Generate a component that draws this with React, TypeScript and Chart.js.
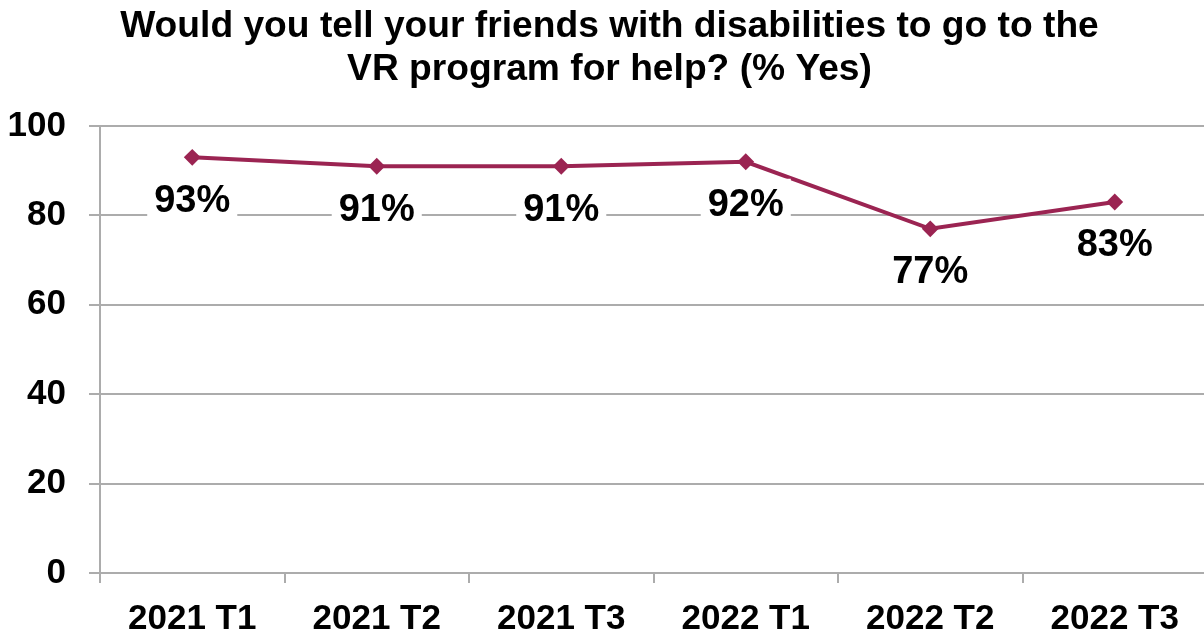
import React, { useEffect, useRef } from "react";
import { Chart, registerables } from "chart.js";

Chart.register(...registerables);

const categories = ["2021 T1", "2021 T2", "2021 T3", "2022 T1", "2022 T2", "2022 T3"];
const yesPercent = [93, 91, 91, 92, 77, 83];
const yTicks = [0, 20, 40, 60, 80, 100];
const titleLines = [
  "Would you tell your friends with disabilities to go to the",
  "VR program for help? (% Yes)",
];

const FONT = "'Liberation Sans', Arial, Helvetica, sans-serif";
const LINE_COLOR = "#9b2452";
const GRID_COLOR = "#acacac";

const labelPlugin = {
  id: "valueLabels",
  afterDatasetsDraw(chart: any) {
    const ctx = chart.ctx;
    const meta = chart.getDatasetMeta(0);
    ctx.save();
    ctx.font = `bold 38px ${FONT}`;
    ctx.textAlign = "center";
    ctx.textBaseline = "middle";
    meta.data.forEach((pt: any, i: number) => {
      const text = `${yesPercent[i]}%`;
      const x = pt.x;
      const y = pt.y + 43;
      const w = ctx.measureText(text).width + 14;
      const h = 52;
      ctx.fillStyle = "#ffffff";
      ctx.fillRect(x - w / 2, y - h / 2, w, h);
      ctx.fillStyle = "#000000";
      ctx.fillText(text, x, y + 1);
    });
    ctx.restore();
  },
};

export default function App() {
  const ref = useRef<HTMLCanvasElement | null>(null);

  useEffect(() => {
    if (!ref.current) return;
    const chart = new Chart(ref.current, {
      type: "line",
      data: {
        labels: categories,
        datasets: [
          {
            data: yesPercent,
            borderColor: LINE_COLOR,
            backgroundColor: LINE_COLOR,
            borderWidth: 4,
            pointStyle: "rectRot",
            pointRadius: 7,
            pointBorderWidth: 2,
            pointBackgroundColor: LINE_COLOR,
            pointBorderColor: LINE_COLOR,
            tension: 0,
          },
        ],
      },
      options: {
        responsive: false,
        animation: false,
        layout: { padding: { left: 8, right: 5, top: 0, bottom: 0 } },
        plugins: {
          legend: { display: false },
          tooltip: { enabled: false },
          title: {
            display: true,
            text: titleLines,
            color: "#000000",
            font: { family: FONT, size: 37.2, weight: "bold", lineHeight: 1.156 },
            padding: { top: 5, bottom: 35 },
          },
        },
        scales: {
          x: {
            offset: true,
            grid: {
              offset: true,
              drawOnChartArea: false,
              drawTicks: true,
              tickLength: 10,
              color: GRID_COLOR,
              lineWidth: 2,
            },
            border: { display: true, color: GRID_COLOR, width: 2 },
            ticks: {
              color: "#000000",
              font: { family: FONT, size: 35, weight: "bold", lineHeight: 1.2 },
              padding: 15,
              maxRotation: 0,
              autoSkip: false,
            },
            afterFit(scale: any) {
              scale.height = 64;
            },
          },
          y: {
            min: 0,
            max: 100,
            afterBuildTicks(scale: any) {
              scale.ticks = yTicks.map((v) => ({ value: v }));
            },
            grid: {
              drawTicks: true,
              tickLength: 11,
              color: GRID_COLOR,
              lineWidth: 2,
            },
            border: { display: true, color: GRID_COLOR, width: 2 },
            ticks: {
              color: "#000000",
              font: { family: FONT, size: 35, weight: "bold", lineHeight: 1.2 },
              padding: 23,
            },
            afterFit(scale: any) {
              scale.width = 92;
            },
          },
        },
      },
      plugins: [labelPlugin],
    });
    return () => chart.destroy();
  }, []);

  return (
    <div
      style={{
        position: "fixed",
        left: 0,
        top: 0,
        width: 1204,
        height: 637,
        overflow: "hidden",
        background: "#ffffff",
      }}
    >
      <canvas ref={ref} width={1216} height={637} style={{ width: 1216, height: 637, display: "block" }} />
    </div>
  );
}
